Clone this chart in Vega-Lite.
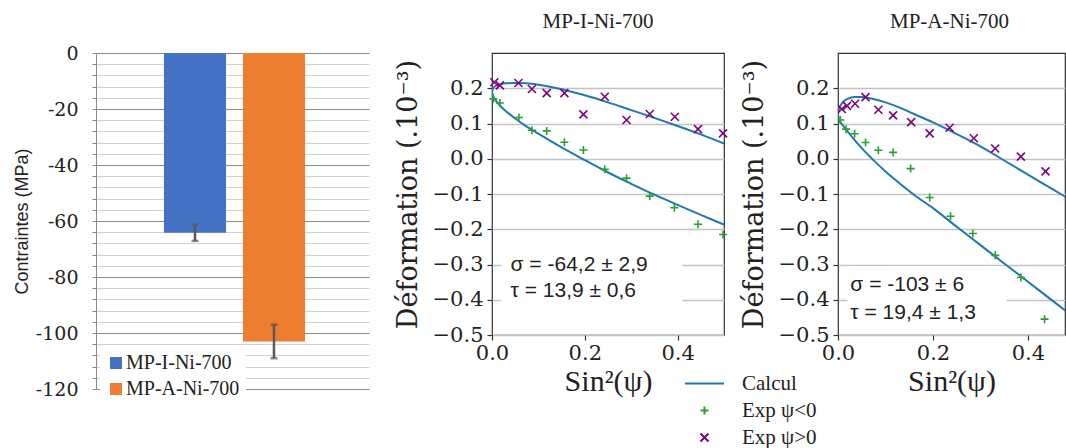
{
  "$schema": "https://vega.github.io/schema/vega-lite/v6.json",
  "background": "white",
  "padding": {"left": 13, "top": 10, "right": 0, "bottom": 0},
  "bounds": "flush",
  "spacing": 123,
  "config": {"font": "Liberation Serif", "view": {"stroke": null}},
  "resolve": {"scale": {"color": "independent", "shape": "independent"}, "legend": {"color": "independent", "shape": "independent"}},
  "datasets": {
    "barres": [
      {"echantillon": "MP-I-Ni-700", "contrainte": -64.2, "bas": -67.1, "haut": -61.3},
      {"echantillon": "MP-A-Ni-700", "contrainte": -103, "bas": -109, "haut": -97}
    ],
    "courbes": [
      {"panneau": "MP-I-Ni-700", "branche": "haut", "serie": "Calcul", "s": 0, "e": 0.19},
      {"panneau": "MP-I-Ni-700", "branche": "haut", "serie": "Calcul", "s": 0.002, "e": 0.199},
      {"panneau": "MP-I-Ni-700", "branche": "haut", "serie": "Calcul", "s": 0.005, "e": 0.204},
      {"panneau": "MP-I-Ni-700", "branche": "haut", "serie": "Calcul", "s": 0.01, "e": 0.208},
      {"panneau": "MP-I-Ni-700", "branche": "haut", "serie": "Calcul", "s": 0.02, "e": 0.212},
      {"panneau": "MP-I-Ni-700", "branche": "haut", "serie": "Calcul", "s": 0.03, "e": 0.214},
      {"panneau": "MP-I-Ni-700", "branche": "haut", "serie": "Calcul", "s": 0.05, "e": 0.215},
      {"panneau": "MP-I-Ni-700", "branche": "haut", "serie": "Calcul", "s": 0.075, "e": 0.214},
      {"panneau": "MP-I-Ni-700", "branche": "haut", "serie": "Calcul", "s": 0.1, "e": 0.21},
      {"panneau": "MP-I-Ni-700", "branche": "haut", "serie": "Calcul", "s": 0.15, "e": 0.197},
      {"panneau": "MP-I-Ni-700", "branche": "haut", "serie": "Calcul", "s": 0.2, "e": 0.18},
      {"panneau": "MP-I-Ni-700", "branche": "haut", "serie": "Calcul", "s": 0.25, "e": 0.16},
      {"panneau": "MP-I-Ni-700", "branche": "haut", "serie": "Calcul", "s": 0.3, "e": 0.138},
      {"panneau": "MP-I-Ni-700", "branche": "haut", "serie": "Calcul", "s": 0.35, "e": 0.116},
      {"panneau": "MP-I-Ni-700", "branche": "haut", "serie": "Calcul", "s": 0.4, "e": 0.093},
      {"panneau": "MP-I-Ni-700", "branche": "haut", "serie": "Calcul", "s": 0.45, "e": 0.069},
      {"panneau": "MP-I-Ni-700", "branche": "haut", "serie": "Calcul", "s": 0.5, "e": 0.043},
      {"panneau": "MP-I-Ni-700", "branche": "bas", "serie": "Calcul", "s": 0, "e": 0.19},
      {"panneau": "MP-I-Ni-700", "branche": "bas", "serie": "Calcul", "s": 0.002, "e": 0.179},
      {"panneau": "MP-I-Ni-700", "branche": "bas", "serie": "Calcul", "s": 0.005, "e": 0.171},
      {"panneau": "MP-I-Ni-700", "branche": "bas", "serie": "Calcul", "s": 0.01, "e": 0.162},
      {"panneau": "MP-I-Ni-700", "branche": "bas", "serie": "Calcul", "s": 0.02, "e": 0.147},
      {"panneau": "MP-I-Ni-700", "branche": "bas", "serie": "Calcul", "s": 0.03, "e": 0.135},
      {"panneau": "MP-I-Ni-700", "branche": "bas", "serie": "Calcul", "s": 0.05, "e": 0.114},
      {"panneau": "MP-I-Ni-700", "branche": "bas", "serie": "Calcul", "s": 0.075, "e": 0.091},
      {"panneau": "MP-I-Ni-700", "branche": "bas", "serie": "Calcul", "s": 0.1, "e": 0.071},
      {"panneau": "MP-I-Ni-700", "branche": "bas", "serie": "Calcul", "s": 0.15, "e": 0.032},
      {"panneau": "MP-I-Ni-700", "branche": "bas", "serie": "Calcul", "s": 0.2, "e": -0.004},
      {"panneau": "MP-I-Ni-700", "branche": "bas", "serie": "Calcul", "s": 0.25, "e": -0.039},
      {"panneau": "MP-I-Ni-700", "branche": "bas", "serie": "Calcul", "s": 0.3, "e": -0.071},
      {"panneau": "MP-I-Ni-700", "branche": "bas", "serie": "Calcul", "s": 0.35, "e": -0.102},
      {"panneau": "MP-I-Ni-700", "branche": "bas", "serie": "Calcul", "s": 0.4, "e": -0.131},
      {"panneau": "MP-I-Ni-700", "branche": "bas", "serie": "Calcul", "s": 0.45, "e": -0.159},
      {"panneau": "MP-I-Ni-700", "branche": "bas", "serie": "Calcul", "s": 0.5, "e": -0.187},
      {"panneau": "MP-A-Ni-700", "branche": "haut", "serie": "Calcul", "s": 0, "e": 0.125},
      {"panneau": "MP-A-Ni-700", "branche": "haut", "serie": "Calcul", "s": 0.002, "e": 0.14},
      {"panneau": "MP-A-Ni-700", "branche": "haut", "serie": "Calcul", "s": 0.005, "e": 0.15},
      {"panneau": "MP-A-Ni-700", "branche": "haut", "serie": "Calcul", "s": 0.01, "e": 0.16},
      {"panneau": "MP-A-Ni-700", "branche": "haut", "serie": "Calcul", "s": 0.02, "e": 0.17},
      {"panneau": "MP-A-Ni-700", "branche": "haut", "serie": "Calcul", "s": 0.035, "e": 0.175},
      {"panneau": "MP-A-Ni-700", "branche": "haut", "serie": "Calcul", "s": 0.05, "e": 0.175},
      {"panneau": "MP-A-Ni-700", "branche": "haut", "serie": "Calcul", "s": 0.07, "e": 0.171},
      {"panneau": "MP-A-Ni-700", "branche": "haut", "serie": "Calcul", "s": 0.1, "e": 0.16},
      {"panneau": "MP-A-Ni-700", "branche": "haut", "serie": "Calcul", "s": 0.13, "e": 0.145},
      {"panneau": "MP-A-Ni-700", "branche": "haut", "serie": "Calcul", "s": 0.16, "e": 0.127},
      {"panneau": "MP-A-Ni-700", "branche": "haut", "serie": "Calcul", "s": 0.2, "e": 0.103},
      {"panneau": "MP-A-Ni-700", "branche": "haut", "serie": "Calcul", "s": 0.25, "e": 0.07},
      {"panneau": "MP-A-Ni-700", "branche": "haut", "serie": "Calcul", "s": 0.3, "e": 0.035},
      {"panneau": "MP-A-Ni-700", "branche": "haut", "serie": "Calcul", "s": 0.35, "e": -0.005},
      {"panneau": "MP-A-Ni-700", "branche": "haut", "serie": "Calcul", "s": 0.4, "e": -0.045},
      {"panneau": "MP-A-Ni-700", "branche": "haut", "serie": "Calcul", "s": 0.45, "e": -0.085},
      {"panneau": "MP-A-Ni-700", "branche": "haut", "serie": "Calcul", "s": 0.5, "e": -0.125},
      {"panneau": "MP-A-Ni-700", "branche": "bas", "serie": "Calcul", "s": 0, "e": 0.125},
      {"panneau": "MP-A-Ni-700", "branche": "bas", "serie": "Calcul", "s": 0.002, "e": 0.112},
      {"panneau": "MP-A-Ni-700", "branche": "bas", "serie": "Calcul", "s": 0.005, "e": 0.104},
      {"panneau": "MP-A-Ni-700", "branche": "bas", "serie": "Calcul", "s": 0.01, "e": 0.095},
      {"panneau": "MP-A-Ni-700", "branche": "bas", "serie": "Calcul", "s": 0.02, "e": 0.078},
      {"panneau": "MP-A-Ni-700", "branche": "bas", "serie": "Calcul", "s": 0.04, "e": 0.045},
      {"panneau": "MP-A-Ni-700", "branche": "bas", "serie": "Calcul", "s": 0.06, "e": 0.016},
      {"panneau": "MP-A-Ni-700", "branche": "bas", "serie": "Calcul", "s": 0.08, "e": -0.011},
      {"panneau": "MP-A-Ni-700", "branche": "bas", "serie": "Calcul", "s": 0.1, "e": -0.036},
      {"panneau": "MP-A-Ni-700", "branche": "bas", "serie": "Calcul", "s": 0.13, "e": -0.07},
      {"panneau": "MP-A-Ni-700", "branche": "bas", "serie": "Calcul", "s": 0.16, "e": -0.102},
      {"panneau": "MP-A-Ni-700", "branche": "bas", "serie": "Calcul", "s": 0.2, "e": -0.14},
      {"panneau": "MP-A-Ni-700", "branche": "bas", "serie": "Calcul", "s": 0.25, "e": -0.193},
      {"panneau": "MP-A-Ni-700", "branche": "bas", "serie": "Calcul", "s": 0.3, "e": -0.245},
      {"panneau": "MP-A-Ni-700", "branche": "bas", "serie": "Calcul", "s": 0.35, "e": -0.297},
      {"panneau": "MP-A-Ni-700", "branche": "bas", "serie": "Calcul", "s": 0.4, "e": -0.349},
      {"panneau": "MP-A-Ni-700", "branche": "bas", "serie": "Calcul", "s": 0.45, "e": -0.401},
      {"panneau": "MP-A-Ni-700", "branche": "bas", "serie": "Calcul", "s": 0.5, "e": -0.452}
    ],
    "mesures": [
      {"panneau": "MP-I-Ni-700", "serie": "Exp ψ>0", "s": 0.005, "e": 0.217},
      {"panneau": "MP-I-Ni-700", "serie": "Exp ψ>0", "s": 0.017, "e": 0.208},
      {"panneau": "MP-I-Ni-700", "serie": "Exp ψ>0", "s": 0.057, "e": 0.215},
      {"panneau": "MP-I-Ni-700", "serie": "Exp ψ>0", "s": 0.086, "e": 0.198},
      {"panneau": "MP-I-Ni-700", "serie": "Exp ψ>0", "s": 0.118, "e": 0.186},
      {"panneau": "MP-I-Ni-700", "serie": "Exp ψ>0", "s": 0.156, "e": 0.186},
      {"panneau": "MP-I-Ni-700", "serie": "Exp ψ>0", "s": 0.197, "e": 0.126},
      {"panneau": "MP-I-Ni-700", "serie": "Exp ψ>0", "s": 0.243, "e": 0.176},
      {"panneau": "MP-I-Ni-700", "serie": "Exp ψ>0", "s": 0.29, "e": 0.11},
      {"panneau": "MP-I-Ni-700", "serie": "Exp ψ>0", "s": 0.34, "e": 0.127},
      {"panneau": "MP-I-Ni-700", "serie": "Exp ψ>0", "s": 0.394, "e": 0.119},
      {"panneau": "MP-I-Ni-700", "serie": "Exp ψ>0", "s": 0.444, "e": 0.084},
      {"panneau": "MP-I-Ni-700", "serie": "Exp ψ>0", "s": 0.498, "e": 0.072},
      {"panneau": "MP-I-Ni-700", "serie": "Exp ψ<0", "s": 0.003, "e": 0.17},
      {"panneau": "MP-I-Ni-700", "serie": "Exp ψ<0", "s": 0.017, "e": 0.158},
      {"panneau": "MP-I-Ni-700", "serie": "Exp ψ<0", "s": 0.058, "e": 0.117},
      {"panneau": "MP-I-Ni-700", "serie": "Exp ψ<0", "s": 0.086, "e": 0.081},
      {"panneau": "MP-I-Ni-700", "serie": "Exp ψ<0", "s": 0.118, "e": 0.079},
      {"panneau": "MP-I-Ni-700", "serie": "Exp ψ<0", "s": 0.156, "e": 0.047},
      {"panneau": "MP-I-Ni-700", "serie": "Exp ψ<0", "s": 0.197, "e": 0.025},
      {"panneau": "MP-I-Ni-700", "serie": "Exp ψ<0", "s": 0.243, "e": -0.03},
      {"panneau": "MP-I-Ni-700", "serie": "Exp ψ<0", "s": 0.29, "e": -0.055},
      {"panneau": "MP-I-Ni-700", "serie": "Exp ψ<0", "s": 0.34, "e": -0.106},
      {"panneau": "MP-I-Ni-700", "serie": "Exp ψ<0", "s": 0.393, "e": -0.139},
      {"panneau": "MP-I-Ni-700", "serie": "Exp ψ<0", "s": 0.444, "e": -0.186},
      {"panneau": "MP-I-Ni-700", "serie": "Exp ψ<0", "s": 0.498, "e": -0.215},
      {"panneau": "MP-A-Ni-700", "serie": "Exp ψ>0", "s": 0.008, "e": 0.141},
      {"panneau": "MP-A-Ni-700", "serie": "Exp ψ>0", "s": 0.019, "e": 0.15},
      {"panneau": "MP-A-Ni-700", "serie": "Exp ψ>0", "s": 0.036, "e": 0.156},
      {"panneau": "MP-A-Ni-700", "serie": "Exp ψ>0", "s": 0.058, "e": 0.175},
      {"panneau": "MP-A-Ni-700", "serie": "Exp ψ>0", "s": 0.085, "e": 0.139},
      {"panneau": "MP-A-Ni-700", "serie": "Exp ψ>0", "s": 0.116, "e": 0.123},
      {"panneau": "MP-A-Ni-700", "serie": "Exp ψ>0", "s": 0.154, "e": 0.104},
      {"panneau": "MP-A-Ni-700", "serie": "Exp ψ>0", "s": 0.193, "e": 0.072},
      {"panneau": "MP-A-Ni-700", "serie": "Exp ψ>0", "s": 0.235, "e": 0.088},
      {"panneau": "MP-A-Ni-700", "serie": "Exp ψ>0", "s": 0.286, "e": 0.058},
      {"panneau": "MP-A-Ni-700", "serie": "Exp ψ>0", "s": 0.331, "e": 0.029},
      {"panneau": "MP-A-Ni-700", "serie": "Exp ψ>0", "s": 0.385, "e": 0.006},
      {"panneau": "MP-A-Ni-700", "serie": "Exp ψ>0", "s": 0.437, "e": -0.036},
      {"panneau": "MP-A-Ni-700", "serie": "Exp ψ<0", "s": 0.005, "e": 0.11},
      {"panneau": "MP-A-Ni-700", "serie": "Exp ψ<0", "s": 0.017, "e": 0.084},
      {"panneau": "MP-A-Ni-700", "serie": "Exp ψ<0", "s": 0.035, "e": 0.071},
      {"panneau": "MP-A-Ni-700", "serie": "Exp ψ<0", "s": 0.058, "e": 0.046},
      {"panneau": "MP-A-Ni-700", "serie": "Exp ψ<0", "s": 0.085, "e": 0.024},
      {"panneau": "MP-A-Ni-700", "serie": "Exp ψ<0", "s": 0.116, "e": 0.018},
      {"panneau": "MP-A-Ni-700", "serie": "Exp ψ<0", "s": 0.153, "e": -0.028},
      {"panneau": "MP-A-Ni-700", "serie": "Exp ψ<0", "s": 0.193, "e": -0.11},
      {"panneau": "MP-A-Ni-700", "serie": "Exp ψ<0", "s": 0.237, "e": -0.163},
      {"panneau": "MP-A-Ni-700", "serie": "Exp ψ<0", "s": 0.284, "e": -0.212},
      {"panneau": "MP-A-Ni-700", "serie": "Exp ψ<0", "s": 0.331, "e": -0.274},
      {"panneau": "MP-A-Ni-700", "serie": "Exp ψ<0", "s": 0.385, "e": -0.337},
      {"panneau": "MP-A-Ni-700", "serie": "Exp ψ<0", "s": 0.435, "e": -0.455}
    ],
    "cadres": [
      {"panneau": "MP-I-Ni-700", "s": 0.02, "s2": 0.41, "e": -0.425, "e2": -0.255},
      {"panneau": "MP-A-Ni-700", "s": 0.02, "s2": 0.355, "e": -0.49, "e2": -0.305}
    ],
    "annotations": [
      {"panneau": "MP-I-Ni-700", "s": 0.04, "e": -0.3, "texte": "σ = -64,2 ± 2,9"},
      {"panneau": "MP-I-Ni-700", "s": 0.04, "e": -0.376, "texte": "τ = 13,9 ± 0,6"},
      {"panneau": "MP-A-Ni-700", "s": 0.026, "e": -0.358, "texte": "σ = -103 ± 6"},
      {"panneau": "MP-A-Ni-700", "s": 0.026, "e": -0.438, "texte": "τ = 19,4 ± 1,3"}
    ]
  },
  "hconcat": [
    {
      "width": 273,
      "height": 336,
      "view": {"stroke": null},
      "data": {"name": "barres"},
      "encoding": {
        "x": {"field": "echantillon", "type": "nominal", "sort": null, "axis": null, "scale": {"paddingInner": 0.215, "paddingOuter": 0.835, "align": 0.515}}
      },
      "layer": [
        {
          "mark": {"type": "bar"},
          "encoding": {
            "y": {
              "field": "contrainte", "type": "quantitative", "title": "Contraintes (MPa)",
              "scale": {"domain": [-120, 0], "nice": false},
              "axis": {
                "values": [-120, -116, -112, -108, -104, -100, -96, -92, -88, -84, -80, -76, -72, -68, -64, -60, -56, -52, -48, -44, -40, -36, -32, -28, -24, -20, -16, -12, -8, -4, 0],
                "tickCount": 100,
                "labelExpr": "datum.value % 20 === 0 ? '' + datum.value : ''",
                "labelOverlap": false,
                "grid": true,
                "gridColor": {"condition": {"test": "datum.value % 20 === 0", "value": "#8a8a8a"}, "value": "#d2d2d2"},
                "gridWidth": 1,
                "domain": true, "domainColor": "#8a8a8a",
                "ticks": true, "tickSize": 4, "tickColor": "#8a8a8a",
                "labelFont": "DejaVu Serif", "labelFontSize": 19, "labelColor": "#222", "labelPadding": 14,
                "titleFont": "Liberation Sans", "titleFontSize": 18, "titleFontWeight": "normal", "titleColor": "#222", "titlePadding": 4
              }
            },
            "color": {
              "field": "echantillon", "type": "nominal", "sort": null,
              "scale": {"domain": ["MP-I-Ni-700", "MP-A-Ni-700"], "range": ["#4472C4", "#ED7D31"]},
              "legend": {
                "title": null, "orient": "none", "legendX": 4, "legendY": 294, "fillColor": "white", "padding": 6,
                "symbolType": "square", "symbolSize": 144, "symbolStrokeWidth": 0,
                "labelFont": "Liberation Serif", "labelFontSize": 20, "labelColor": "#222", "labelOffset": 0, "rowPadding": 6
              }
            }
          }
        },
        {
          "mark": {"type": "rule", "color": "#595959", "strokeWidth": 2.5},
          "encoding": {"y": {"field": "bas", "type": "quantitative", "title": "Contraintes (MPa)"}, "y2": {"field": "haut"}}
        },
        {
          "mark": {"type": "tick", "color": "#595959", "thickness": 2.5, "size": 7},
          "encoding": {"y": {"field": "bas", "type": "quantitative", "title": "Contraintes (MPa)"}}
        },
        {
          "mark": {"type": "tick", "color": "#595959", "thickness": 2.5, "size": 7},
          "encoding": {"y": {"field": "haut", "type": "quantitative", "title": "Contraintes (MPa)"}}
        }
      ]
    },
    {
      "bounds": "flush",
      "spacing": 114,
      "resolve": {"scale": {"color": "independent", "shape": "independent"}, "legend": {"color": "independent", "shape": "independent"}},
      "hconcat": [
        {
          "width": 232,
          "height": 282,
          "title": {"text": "MP-I-Ni-700", "font": "Liberation Serif", "fontSize": 21, "fontWeight": "normal", "color": "#222", "baseline": "alphabetic", "offset": 4, "dx": -10},
          "view": {"stroke": "#333", "strokeWidth": 1.2},
          "encoding": {
            "x": {
              "field": "s", "type": "quantitative", "title": "Sin²(ψ)",
              "scale": {"domain": [0, 0.5], "nice": false, "zero": false},
              "axis": {"values": [0, 0.2, 0.4], "format": ".1f", "grid": false, "domain": false, "tickSize": 5, "tickColor": "#333", "tickWidth": 1.2, "labelFont": "DejaVu Serif", "labelFontSize": 21, "labelColor": "#222", "labelPadding": 2, "labelFlush": false, "titleFont": "Liberation Serif", "titleFontSize": 30, "titleFontWeight": "normal", "titleColor": "#222", "titlePadding": 3}
            },
            "y": {
              "field": "e", "type": "quantitative", "title": "Déformation (.10⁻³)",
              "scale": {"domain": [-0.5, 0.3], "nice": false, "zero": false},
              "axis": {"values": [-0.5, -0.4, -0.3, -0.2, -0.1, 0, 0.1, 0.2], "tickCount": 20, "format": ".1f", "grid": true, "gridColor": "#c4c4c4", "gridWidth": 1.3, "domain": false, "tickSize": 5, "tickColor": "#333", "tickWidth": 1.2, "labelFont": "DejaVu Serif", "labelFontSize": 21, "labelColor": "#222", "labelPadding": 4, "labelOverlap": false, "titleFont": "DejaVu Serif", "titleFontSize": 27, "titleFontWeight": "normal", "titleColor": "#222", "titlePadding": 10}
            }
          },
          "layer": [
            {
              "data": {"name": "courbes"},
              "transform": [{"filter": "datum.panneau === 'MP-I-Ni-700'"}],
              "mark": {"type": "line", "interpolate": "monotone", "strokeWidth": 2, "clip": true},
              "encoding": {
                "detail": {"field": "branche"},
                "color": {
                  "field": "serie", "type": "nominal",
                  "scale": {"domain": ["Calcul", "Exp ψ<0", "Exp ψ>0"], "range": ["#1f77b4", "#2ca02c", "#800080"]},
                  "legend": {"title": null, "orient": "none", "legendX": 202, "legendY": 320, "symbolSize": 1521, "symbolStrokeWidth": 2, "labelFont": "Liberation Serif", "labelFontSize": 21, "labelColor": "#222", "labelOffset": 27, "rowPadding": 5, "padding": 0, "encode": {"symbols": {"update": {"size": {"signal": "datum.value === 'Calcul' ? 1521 : 64"}}}}}
                }
              }
            },
            {
              "data": {"name": "cadres"},
              "transform": [{"filter": "datum.panneau === 'MP-I-Ni-700'"}],
              "mark": {"type": "rect", "fill": "white"},
              "encoding": {"x2": {"field": "s2"}, "y2": {"field": "e2"}}
            },
            {
              "data": {"name": "mesures"},
              "transform": [{"filter": "datum.panneau === 'MP-I-Ni-700'"}],
              "mark": {"type": "point", "filled": false, "size": 64, "strokeWidth": 1.6, "opacity": 1},
              "encoding": {
                "color": {
                  "field": "serie", "type": "nominal",
                  "scale": {"domain": ["Calcul", "Exp ψ<0", "Exp ψ>0"], "range": ["#1f77b4", "#2ca02c", "#800080"]},
                  "legend": {"title": null, "orient": "none", "legendX": 202, "legendY": 320, "symbolSize": 1521, "symbolStrokeWidth": 2, "labelFont": "Liberation Serif", "labelFontSize": 21, "labelColor": "#222", "labelOffset": 27, "rowPadding": 5, "padding": 0, "encode": {"symbols": {"update": {"size": {"signal": "datum.value === 'Calcul' ? 1521 : 64"}}}}}
                },
                "shape": {
                  "field": "serie", "type": "nominal",
                  "scale": {"domain": ["Calcul", "Exp ψ<0", "Exp ψ>0"], "range": ["stroke", "M-1,0L1,0M0,-1L0,1", "M-1,-1L1,1M-1,1L1,-1"]},
                  "legend": {"title": null, "orient": "none", "legendX": 202, "legendY": 320, "symbolSize": 1521, "symbolStrokeWidth": 2, "labelFont": "Liberation Serif", "labelFontSize": 21, "labelColor": "#222", "labelOffset": 27, "rowPadding": 5, "padding": 0, "encode": {"symbols": {"update": {"size": {"signal": "datum.value === 'Calcul' ? 1521 : 64"}}}}}
                }
              }
            },
            {
              "data": {"name": "annotations"},
              "transform": [{"filter": "datum.panneau === 'MP-I-Ni-700'"}],
              "mark": {"type": "text", "align": "left", "baseline": "middle", "font": "Liberation Sans", "fontSize": 21, "color": "#222"},
              "encoding": {"text": {"field": "texte"}}
            }
          ]
        },
        {
          "width": 227,
          "height": 282,
          "title": {"text": "MP-A-Ni-700", "font": "Liberation Serif", "fontSize": 21, "fontWeight": "normal", "color": "#222", "baseline": "alphabetic", "offset": 4, "dx": -2},
          "view": {"stroke": "#333", "strokeWidth": 1.2},
          "encoding": {
            "x": {
              "field": "s", "type": "quantitative", "title": "Sin²(ψ)",
              "scale": {"domain": [0, 0.478], "nice": false, "zero": false},
              "axis": {"values": [0, 0.2, 0.4], "format": ".1f", "grid": false, "domain": false, "tickSize": 5, "tickColor": "#333", "tickWidth": 1.2, "labelFont": "DejaVu Serif", "labelFontSize": 21, "labelColor": "#222", "labelPadding": 2, "labelFlush": false, "titleFont": "Liberation Serif", "titleFontSize": 30, "titleFontWeight": "normal", "titleColor": "#222", "titlePadding": 3}
            },
            "y": {
              "field": "e", "type": "quantitative", "title": "Déformation (.10⁻³)",
              "scale": {"domain": [-0.5, 0.3], "nice": false, "zero": false},
              "axis": {"values": [-0.5, -0.4, -0.3, -0.2, -0.1, 0, 0.1, 0.2], "tickCount": 20, "format": ".1f", "grid": true, "gridColor": "#c4c4c4", "gridWidth": 1.3, "domain": false, "tickSize": 5, "tickColor": "#333", "tickWidth": 1.2, "labelFont": "DejaVu Serif", "labelFontSize": 21, "labelColor": "#222", "labelPadding": 4, "labelOverlap": false, "titleFont": "DejaVu Serif", "titleFontSize": 27, "titleFontWeight": "normal", "titleColor": "#222", "titlePadding": 10}
            }
          },
          "layer": [
            {
              "data": {"name": "courbes"},
              "transform": [{"filter": "datum.panneau === 'MP-A-Ni-700'"}],
              "mark": {"type": "line", "interpolate": "monotone", "strokeWidth": 2, "clip": true},
              "encoding": {
                "detail": {"field": "branche"},
                "color": {"field": "serie", "type": "nominal", "scale": {"domain": ["Calcul", "Exp ψ<0", "Exp ψ>0"], "range": ["#1f77b4", "#2ca02c", "#800080"]}, "legend": null}
              }
            },
            {
              "data": {"name": "cadres"},
              "transform": [{"filter": "datum.panneau === 'MP-A-Ni-700'"}],
              "mark": {"type": "rect", "fill": "white"},
              "encoding": {"x2": {"field": "s2"}, "y2": {"field": "e2"}}
            },
            {
              "data": {"name": "mesures"},
              "transform": [{"filter": "datum.panneau === 'MP-A-Ni-700'"}],
              "mark": {"type": "point", "filled": false, "size": 64, "strokeWidth": 1.6, "opacity": 1, "clip": true},
              "encoding": {
                "color": {"field": "serie", "type": "nominal", "scale": {"domain": ["Calcul", "Exp ψ<0", "Exp ψ>0"], "range": ["#1f77b4", "#2ca02c", "#800080"]}, "legend": null},
                "shape": {"field": "serie", "type": "nominal", "scale": {"domain": ["Calcul", "Exp ψ<0", "Exp ψ>0"], "range": ["stroke", "M-1,0L1,0M0,-1L0,1", "M-1,-1L1,1M-1,1L1,-1"]}, "legend": null}
              }
            },
            {
              "data": {"name": "annotations"},
              "transform": [{"filter": "datum.panneau === 'MP-A-Ni-700'"}],
              "mark": {"type": "text", "align": "left", "baseline": "middle", "font": "Liberation Sans", "fontSize": 21, "color": "#222"},
              "encoding": {"text": {"field": "texte"}}
            }
          ]
        }
      ]
    }
  ]
}
